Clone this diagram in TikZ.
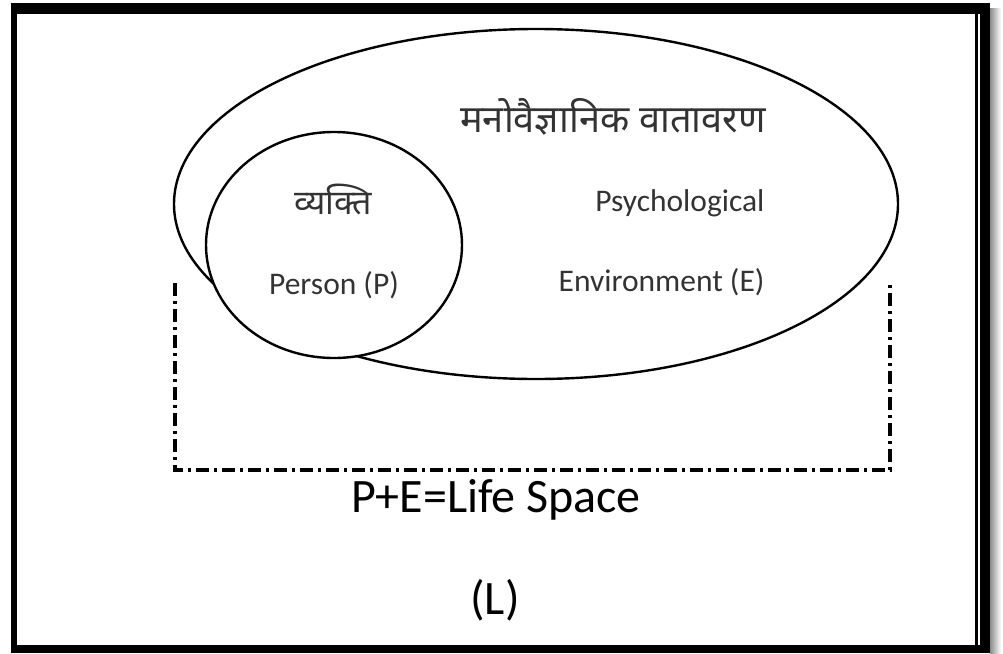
\documentclass[tikz,border=0pt]{standalone}
\usepackage{fontspec}
\setmainfont{Carlito}
\newfontfamily\hindi[Script=Devanagari]{Noto Sans}
\usetikzlibrary{shapes.geometric}
\tikzset{
  ring/.style={draw=black, line width=2.4pt, ellipse, inner sep=0pt},
  lifebox/.style={line width=3.6pt, dash pattern=on 13pt off 5pt on 3pt off 5pt},
  small/.style={font=\fontsize{31.5}{36}\selectfont, text=black!80},
  big/.style={font=\fontsize{48}{56}\selectfont, text=black},
  band/.style={fill=black, draw=none}
}
\begin{document}
\begin{tikzpicture}[x=1pt,y=-1pt]
\useasboundingbox (0,0) rectangle (1003,653);
\fill[white] (0,0) rectangle (1003,653);
% frame
\fill[band] (11,3) rectangle (990,14);
\fill[band] (11,3) rectangle (17,653);
\fill[band] (11,645) rectangle (990,653);
\fill[band] (980,3) rectangle (990,653);
\fill[band] (975,14) rectangle (977.5,645);
\shade[left color=black!45, right color=white] (990,8) rectangle (1001,653);
% ellipse and circle
\node[ring, minimum width=724pt, minimum height=350pt] (env) at (536,204) {};
\node[ring, fill=white, minimum width=256pt, minimum height=226pt] (person) at (334,245) {};
% life space bracket
\coordinate (lt) at (175,283);
\coordinate (lb) at (175,470);
\coordinate (rb) at (890,470);
\coordinate (rt) at (890,283);
\draw[lifebox] (lt) -- (lb) -- (rb) -- (rt);
% texts
\node[font=\hindi\fontsize{38}{44}\selectfont, text=black!80] (envhi) at (613,117) {मनोवैज्ञानिक वातावरण};
\node[small, anchor=east] (psy) at (768,203) {Psychological};
\node[small, anchor=east] (envir) at (768,282) {Environment (E)};
\node[font=\hindi\fontsize{34}{40}\selectfont, text=black!80] (vyakti) at (333,200) {व्यक्ति};
\node[small] (pers) at (334,285) {Person (P)};
\node[big] (life) at (496,500) {P+E=Life Space};
\node[big] (ell) at (495,600) {(L)};
\end{tikzpicture}
\end{document}
